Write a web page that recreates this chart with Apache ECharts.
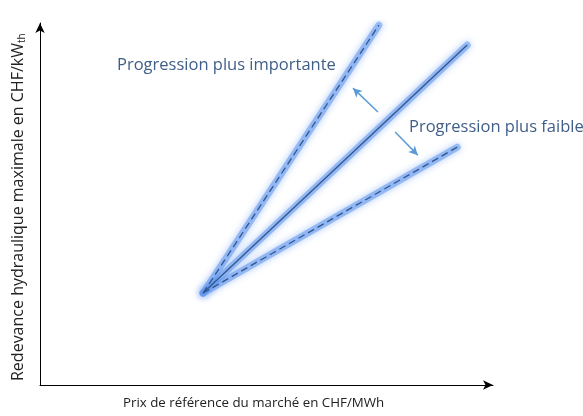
<!DOCTYPE html>
<html><head><meta charset="utf-8">
<script src="https://cdn.jsdelivr.net/npm/echarts@6/dist/echarts.min.js"></script>
<style>html,body{margin:0;padding:0;background:#fff}#c{width:583px;height:416px}</style>
</head><body><div id="c"></div>
<script>
// Conceptual chart: values on a 0-100 scale on both axes
const origin = [36.0, 25.4];
const steepEnd = [74.8, 99.4];   // Progression plus importante (dashed)
const baseEnd = [94.3, 93.9];    // reference line (solid)
const flatEnd = [92.1, 65.7];    // Progression plus faible (dashed)
const arrowUp = [[74.6, 75.4], [69.1, 82.0]];
const arrowDown = [[78.4, 69.9], [83.4, 63.5]];
const labelHigh = 'Progression plus importante';
const labelLow = 'Progression plus faible';
const xTitle = 'Prix de référence du marché en CHF/MWh';
const yTitle = 'Redevance hydraulique maximale en CHF/kW';

const chart = echarts.init(document.getElementById('c'), null, {renderer: 'canvas'});
const glow = {color: 'rgba(95,150,238,0.55)', width: 7, shadowBlur: 7, shadowColor: 'rgba(90,145,240,0.85)', cap: 'round'};
function glowSeries(end) {
  return {type: 'line', data: [origin, end], symbol: 'none', silent: true, lineStyle: glow, z: 2};
}
function coreSeries(end, dashed) {
  return {type: 'line', data: [origin, end], symbol: 'none', silent: true,
    lineStyle: {color: '#34578A', width: 1.3, type: dashed ? [7, 4] : 'solid'}, z: 3};
}
const option = {
  animation: false,
  grid: {left: 40, right: 90, top: 23, bottom: 31},
  xAxis: {type: 'value', min: 0, max: 100, axisLabel: {show: false}, axisTick: {show: false}, splitLine: {show: false},
    axisLine: {lineStyle: {color: '#000', width: 1}, symbol: ['none', 'arrow'], symbolSize: [7, 10], symbolOffset: [0, 0]}},
  yAxis: {type: 'value', min: 0, max: 100, axisLabel: {show: false}, axisTick: {show: false}, splitLine: {show: false},
    axisLine: {lineStyle: {color: '#000', width: 1}, symbol: ['none', 'arrow'], symbolSize: [7, 10], symbolOffset: [0, 0]}},
  series: [
    glowSeries(steepEnd), glowSeries(baseEnd), glowSeries(flatEnd),
    coreSeries(steepEnd, true), coreSeries(baseEnd, false), coreSeries(flatEnd, true),
    {type: 'line', data: [], symbol: 'none', silent: true,
      markLine: {silent: true, symbol: ['none', 'arrow'], symbolSize: [7, 9], label: {show: false},
        lineStyle: {color: '#5B9BD5', width: 1.5, type: 'solid'},
        data: [
          [{coord: arrowUp[0]}, {coord: arrowUp[1]}],
          [{coord: arrowDown[0]}, {coord: arrowDown[1]}]
        ]}}
  ],
  graphic: [
    {type: 'text', left: 117, top: 57, style: {text: labelHigh, fill: '#3F5E88', font: '16.5px "Open Sans", sans-serif'}},
    {type: 'text', left: 409, top: 119, style: {text: labelLow, fill: '#3F5E88', font: '16.5px "Open Sans", sans-serif'}},
    {type: 'text', left: 123, top: 397, style: {text: xTitle, fill: '#222', font: '13.3px "Open Sans", sans-serif'}},
    {type: 'text', x: 9, y: 381, rotation: Math.PI / 2, style: {
      text: '{a|' + yTitle + '}{s|th}', rich: {a: {fill: '#222', font: '16px "Open Sans", sans-serif'}, s: {fill: '#222', font: '10px "Open Sans", sans-serif', verticalAlign: 'bottom', padding: [8, 0, 0, 0]}}}}
  ]
};
chart.setOption(option);
</script></body></html>
